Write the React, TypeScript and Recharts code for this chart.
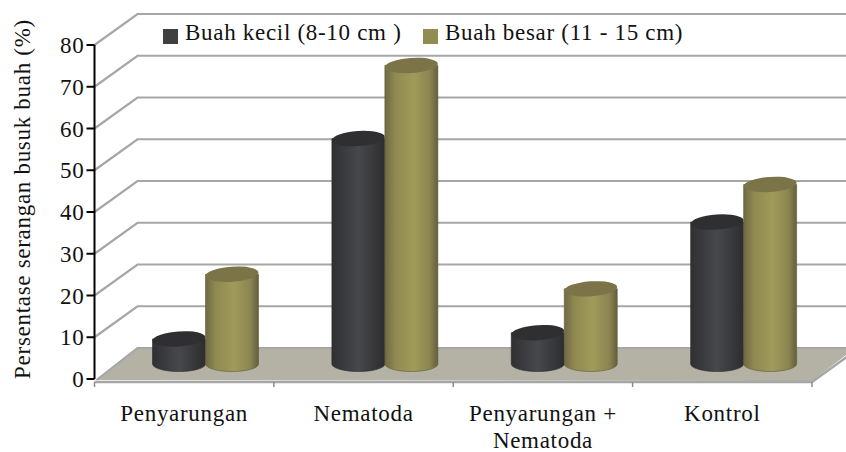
import React from "react";
import { BarChart, Bar, XAxis, YAxis, CartesianGrid, Legend, Label } from "recharts";

const categories = ["Penyarungan", "Nematoda", "Penyarungan + Nematoda", "Kontrol"];
const buahKecil = [6, 54, 7.5, 34];
const buahBesar = [21.5, 71.5, 18, 43];
const yTicks = [0, 10, 20, 30, 40, 50, 60, 70, 80];
const seriesNames = ["Buah kecil (8-10 cm )", "Buah besar (11 - 15 cm)"];

const rows = categories.map((name, i) => ({ name, kecil: buahKecil[i], besar: buahBesar[i] }));

const FONT = "'Liberation Serif', serif";
const TEXT_SIZE = 23;
const TRACK = 0.7;
const GRID = "#a6a6a6";
const DX = 43;
const DY = -31;
const LIFT = 15;
const SHIFT = 21;

const wallOrFloor = (props: any) => {
  const { x1, y1, x2, y: top, height } = props;
  const a = Number(x1);
  const b = Number(x2);
  const y = Number(y1);
  if (Math.abs(y - (Number(top) + Number(height))) > 1) {
    return (
      <polyline
        key={y}
        points={`${a},${y} ${a + DX},${y + DY} ${b + DX},${y + DY}`}
        fill="none"
        stroke={GRID}
        strokeWidth={2.2}
      />
    );
  }
  const step = (b - a) / categories.length;
  return (
    <g key={y}>
      <polygon
        points={`${a + 2},${y + 1} ${b},${y + 2} ${b + DX},${y + DY} ${a + DX},${y + DY}`}
        fill="#b3b2a5"
      />
      <polyline
        points={`${a + 2},${y + 1} ${a + DX},${y + DY} ${b + DX},${y + DY}`}
        fill="none"
        stroke={GRID}
        strokeWidth={2.2}
      />
      <polyline
        points={`${a},${y + 3} ${b},${y + 3} ${b + DX},${y + DY + 3}`}
        fill="none"
        stroke={GRID}
        strokeWidth={2.6}
      />
      {categories.concat("").map((_, i) => (
        <line key={i} x1={a + i * step} x2={a + i * step} y1={y + 3} y2={y + 8} stroke="#8c8c8c" strokeWidth={1.5} />
      ))}
    </g>
  );
};

const cylinder = (gradId: string, top: string, rim: string) => (props: any) => {
  const { x, y, width, height } = props;
  const left = x + SHIFT;
  const cx = left + width / 2;
  const rx = width / 2;
  const ry = 7.5;
  const yTop = y - LIFT;
  const yBot = y + height - LIFT;
  return (
    <g>
      <path
        d={`M${left},${yTop} L${left},${yBot} A${rx},${ry} 0 0 0 ${left + width},${yBot} L${left + width},${yTop} Z`}
        fill={`url(#${gradId})`}
        stroke={rim}
        strokeWidth={0.6}
      />
      <ellipse cx={cx} cy={yTop} rx={rx} ry={ry} fill={top} transform={`rotate(-4 ${cx} ${yTop})`} />
    </g>
  );
};

const CategoryTick = (props: any) => {
  const { x, y, payload } = props;
  const lines = String(payload.value).replace("+ ", "+\n").split("\n");
  return (
    <text x={x} y={y} textAnchor="middle" fontFamily={FONT} fontSize={TEXT_SIZE} letterSpacing={TRACK} fill="#111">
      {lines.map((t, i) => (
        <tspan key={i} x={x} y={y + 34 + i * 27}>
          {t}
        </tspan>
      ))}
    </text>
  );
};

const legendContent = () => (
  <div style={{ position: "relative", height: 0, fontFamily: FONT, fontSize: TEXT_SIZE, letterSpacing: TRACK, color: "#111" }}>
    {seriesNames.map((n, i) => (
      <React.Fragment key={n}>
        <span
          style={{
            position: "absolute",
            left: [163, 423][i],
            top: 29,
            width: 15,
            height: 15,
            background: ["#404040", "#938c52"][i],
          }}
        />
        <span style={{ position: "absolute", left: [185, 445][i], top: 20, whiteSpace: "nowrap" }}>{n}</span>
      </React.Fragment>
    ))}
  </div>
);

export default function App() {
  return (
    <div style={{ position: "absolute", left: 0, top: 0, width: 846, height: 452, background: "#fff", overflow: "hidden" }}>
      <BarChart
        width={846}
        height={452}
        data={rows}
        margin={{ top: 45, right: 34, bottom: 0, left: 0 }}
        barSize={53}
        barGap={0}
      >
        <defs>
          <linearGradient id="gradDark" x1="0" x2="1" y1="0" y2="0">
            <stop offset="0" stopColor="#303033" />
            <stop offset="0.5" stopColor="#47484c" />
            <stop offset="1" stopColor="#2d2d2f" />
          </linearGradient>
          <linearGradient id="gradOlive" x1="0" x2="1" y1="0" y2="0">
            <stop offset="0" stopColor="#6f6a43" />
            <stop offset="0.2" stopColor="#908a52" />
            <stop offset="0.55" stopColor="#a09a5a" />
            <stop offset="0.85" stopColor="#8a8450" />
            <stop offset="1" stopColor="#635f3c" />
          </linearGradient>
        </defs>
        <CartesianGrid vertical={false} horizontal={wallOrFloor} horizontalValues={yTicks} />
        <XAxis dataKey="name" height={73} axisLine={false} tickLine={false} interval={0} tick={CategoryTick} />
        <YAxis
          width={94.5}
          domain={[0, 80]}
          ticks={yTicks}
          interval={0}
          axisLine={{ stroke: "#000", strokeWidth: 2 }}
          tickLine={{ stroke: "#000", strokeWidth: 2 }}
          tickSize={8}
          tick={{ fontFamily: FONT, fontSize: TEXT_SIZE, letterSpacing: TRACK, fill: "#111" }}
        >
          <Label
            value="Persentase serangan busuk buah (%)"
            content={() => (
              <text
                x={30}
                y={199}
                transform="rotate(-90 30 199)"
                textAnchor="middle"
                fontFamily={FONT}
                fontSize={TEXT_SIZE}
                letterSpacing={TRACK}
                fill="#111"
              >
                Persentase serangan busuk buah (%)
              </text>
            )}
          />
        </YAxis>
        <Legend verticalAlign="top" content={legendContent} wrapperStyle={{ top: 0, left: 0, width: 846, height: 0 }} />
        <Bar
          dataKey="kecil"
          name={seriesNames[0]}
          fill="#404040"
          isAnimationActive={false}
          shape={cylinder("gradDark", "#2f2f31", "#2a2a2a")}
        />
        <Bar
          dataKey="besar"
          name={seriesNames[1]}
          fill="#938c52"
          isAnimationActive={false}
          shape={cylinder("gradOlive", "#7a7448", "#5e5a3a")}
        />
      </BarChart>
    </div>
  );
}
